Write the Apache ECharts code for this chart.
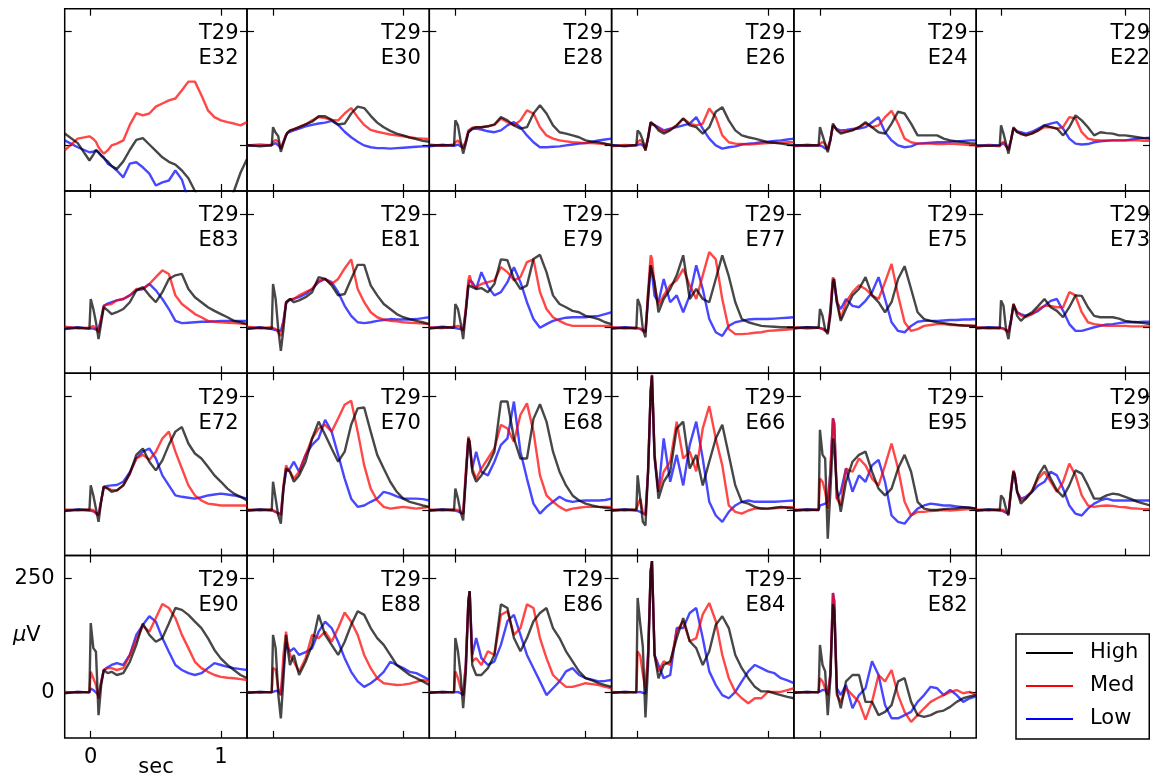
<!DOCTYPE html>
<html><head><meta charset="utf-8">
<script src="https://cdn.jsdelivr.net/npm/echarts@6/dist/echarts.min.js"></script>
<style>html,body{margin:0;padding:0;background:#fff}#c{width:1150px;height:778px}</style>
</head><body><div id="c"></div>
<script>
// ---- data ----
const times = [-0.2,-0.1,-0.01,0,0.02,0.04,0.06,0.08,0.1,0.11,0.13,0.16,0.2,0.25,0.3,0.35,0.4,0.45,0.5,0.55,0.6,0.65,0.7,0.75,0.8,0.85,0.9,0.95,1.0,1.05,1.1,1.15,1.2];
const xTickValues = [0, 1];
const yTickValues = [0, 250];
const trialLabel = 'T29';
const electrodes = ['E32','E30','E28','E26','E24','E22','E83','E81','E79','E77','E75','E73','E72','E70','E68','E66','E95','E93','E90','E88','E86','E84','E82'];
const conditions = ['High','Med','Low'];

const e32High = [26,5,-33,-30,-20,-10,-15,-22,-28,-30,-35,-45,-52,-35,-10,12,16,2,-12,-26,-36,-42,-55,-72,-100,-125,-145,-155,-150,-135,-100,-60,-30];
const e32Med  = [-11,15,20,18,14,8,-4,-12,-18,-16,-11,0,4,11,45,71,66,70,85,92,99,103,121,140,140,110,77,62,55,51,48,44,51];
const e32Low  = [11,-4,-15,-18,-14,-11,-16,-22,-26,-30,-40,-45,-55,-70,-40,-37,-48,-62,-88,-81,-77,-55,-75,-120,-150,-170,-180,-185,-185,-180,-175,-170,-165];

const e30High = [1,-2,0,40,28,20,-14,5,22,28,33,36,40,46,52,64,64,56,46,48,70,85,82,65,50,40,32,26,22,17,14,10,8];
const e30Med  = [0,2,0,8,12,8,-8,8,24,28,32,35,40,46,55,62,60,56,55,70,82,62,45,34,30,27,24,22,20,18,16,15,14];
const e30Low  = [-1,0,1,2,5,0,-6,8,22,27,30,33,37,42,45,48,50,54,45,30,18,8,0,-4,-6,-6,-7,-6,-5,-4,-3,-2,-2];

const e28High = [0,1,0,55,44,11,-18,4,29,33,37,40,40,42,46,62,55,44,37,40,70,88,70,44,29,26,22,18,11,8,7,4,0];
const e28Med  = [2,-1,2,7,11,4,-7,10,33,36,39,40,40,42,45,59,51,44,55,77,70,40,22,15,11,9,7,6,5,5,4,3,2];
const e28Low  = [-2,1,-1,0,2,-2,-4,8,29,33,36,37,35,31,29,33,44,51,40,22,7,-4,-4,-3,-2,0,2,4,5,8,11,13,15];

const e26High = [0,-1,1,33,26,11,-11,18,51,48,44,33,26,33,44,59,44,40,26,40,74,84,55,33,22,18,15,11,7,6,4,2,0];
const e26Med  = [-2,1,0,7,12,5,-11,18,51,48,45,37,30,35,44,59,48,44,48,81,62,22,7,4,3,2,3,4,5,6,6,7,7];
const e26Low  = [1,-2,0,0,3,0,-7,15,48,46,44,40,33,37,40,44,48,62,37,15,0,-7,-4,-2,2,4,5,7,8,10,11,13,15];

const e24High = [0,1,0,40,22,4,-15,11,48,44,33,26,29,33,40,51,40,29,26,48,74,70,48,22,22,22,22,15,11,9,7,5,4];
const e24Med  = [-2,1,0,4,8,2,-11,12,44,40,35,29,31,34,40,48,40,44,62,76,48,15,7,4,4,4,3,3,4,3,2,1,0];
const e24Low  = [1,-1,0,0,-2,-7,-5,12,44,40,36,33,34,36,37,40,51,62,29,11,0,-4,-2,4,5,6,7,7,8,9,10,11,11];

const e22High = [0,-1,0,44,26,4,-18,11,40,36,29,26,22,26,33,44,40,37,22,40,66,55,40,22,29,27,26,22,22,20,18,16,15];
const e22Med  = [-3,0,-2,4,8,0,-11,12,37,34,30,25,22,27,33,40,40,37,40,62,59,29,15,12,11,11,11,11,11,11,11,10,10];
const e22Low  = [-1,1,0,4,5,-2,-7,12,37,34,31,29,26,30,37,44,48,51,37,15,4,2,3,7,9,10,11,11,11,13,15,16,17];

const e83High = [-3,0,-2,63,41,12,-25,10,45,45,38,30,34,41,56,82,89,71,56,78,107,115,118,85,67,56,45,37,30,23,15,12,8];
const e83Med  = [2,-1,0,0,4,-3,-10,19,48,50,51,52,60,63,71,85,85,96,111,126,118,71,52,41,30,23,15,13,12,11,10,9,8];
const e83Low  = [-1,1,-2,-3,-2,-4,-3,20,48,50,53,56,60,63,71,82,85,96,82,63,41,15,10,11,12,13,13,14,15,15,15,15,15];

const e81High = [-3,0,-2,96,63,-3,-51,-3,56,60,63,56,60,67,78,111,107,93,71,74,107,138,138,93,71,52,41,30,23,19,15,12,8];
const e81Med  = [2,-1,1,1,-3,-10,-18,12,56,60,62,63,71,78,85,104,107,96,107,130,150,85,56,34,23,18,15,14,12,11,10,9,8];
const e81Low  = [-1,1,-3,-3,-5,-6,-7,15,52,57,62,64,67,74,85,100,107,100,78,48,26,12,10,12,15,17,19,18,18,18,19,21,23];

const e79High = [-2,1,0,52,41,12,-25,34,93,91,89,85,87,78,96,150,148,107,85,93,151,160,122,71,52,45,37,34,26,23,19,12,8];
const e79Med  = [1,-1,2,4,4,1,-7,42,104,115,93,89,96,100,104,133,122,104,111,144,150,78,41,23,15,8,4,4,4,4,4,4,4];
const e79Low  = [-1,2,0,0,-2,-3,-4,34,93,104,100,85,122,90,71,78,100,133,100,56,19,0,8,15,19,22,23,23,23,25,26,30,34];

const e77High = [-2,0,-1,63,48,-3,-21,71,137,133,100,34,63,85,115,159,63,85,63,56,107,159,113,56,19,12,8,4,3,2,1,1,1];
const e77Med  = [1,-1,0,1,-3,-7,-10,78,159,152,93,48,71,93,104,129,93,63,115,166,150,63,-3,-14,-14,-13,-11,-10,-7,-6,-5,-4,-3];
const e77Low  = [-1,1,-1,0,-2,-5,-7,60,137,120,70,56,107,56,71,34,71,137,85,19,-10,-18,4,12,15,18,19,19,19,20,21,22,23];

const e75High = [-1,1,0,41,26,-4,-14,26,100,107,55,15,41,71,85,111,71,56,34,56,107,135,85,34,19,15,12,10,8,6,5,4,4];
const e75Med  = [1,-2,0,0,-3,-7,-10,40,111,108,63,19,56,78,93,85,71,63,100,140,71,12,-7,-3,4,6,8,8,6,6,5,5,4];
const e75Low  = [-1,1,0,0,-2,-5,-7,35,107,100,56,41,63,48,45,59,78,111,63,12,-7,-10,4,13,15,15,15,16,17,17,18,18,19];

const e73High = [-1,0,-1,60,48,-3,-25,15,52,45,26,15,26,34,48,63,45,37,23,45,71,70,45,26,23,23,23,20,15,13,12,10,8];
const e73Med  = [1,-1,0,1,-2,-6,-10,15,52,48,34,27,23,30,41,48,48,45,45,78,71,34,12,8,6,4,4,4,4,3,3,3,3];
const e73Low  = [-1,1,0,0,-2,-5,-7,15,48,44,34,30,26,30,37,48,59,63,37,8,-7,-7,-3,1,4,7,8,10,12,12,12,13,13];

const e72High = [-2,1,0,54,32,3,-26,19,51,49,47,40,43,54,80,121,135,106,87,109,143,172,182,146,124,113,95,76,62,47,36,29,21];
const e72Med  = [1,-1,1,3,0,-8,-12,20,51,50,48,44,43,54,80,113,121,110,128,157,172,128,91,54,32,21,14,12,10,10,10,10,10];
const e72Low  = [-1,1,-1,-1,-3,-6,-8,20,51,52,53,54,55,62,83,113,128,135,113,76,54,32,29,27,25,28,32,34,36,34,32,29,25];

const e70High = [-1,1,0,62,25,-12,-30,47,91,88,84,62,76,106,157,194,165,135,106,128,187,223,225,172,121,91,62,40,25,18,14,10,7];
const e70Med  = [1,-1,1,3,-4,-8,-12,54,98,92,84,69,84,121,157,179,187,172,201,231,240,172,98,47,21,7,3,5,7,5,3,5,7];
const e70Low  = [-1,1,-1,-1,-4,-7,-8,47,84,88,91,106,84,121,143,157,198,172,121,69,25,7,10,18,25,40,36,30,25,25,25,24,21];

const e68High = [-1,1,0,47,25,-4,-23,69,157,150,84,62,76,98,128,238,238,157,113,113,200,232,194,128,84,54,32,21,14,10,7,5,3];
const e68Med  = [1,-1,1,3,0,-4,-8,84,161,150,91,69,91,113,135,187,179,150,209,234,172,76,32,18,7,-1,3,5,7,7,7,7,7];
const e68Low  = [-1,1,-1,-1,-3,-6,-8,70,157,140,91,128,84,76,106,143,157,238,128,69,14,-8,7,18,29,21,18,20,21,21,21,22,25];

const e66High = [-1,1,0,76,25,-26,-34,84,260,295,121,25,62,84,179,194,91,121,54,106,157,187,121,54,18,14,7,3,3,5,7,5,3];
const e66Med  = [1,-1,1,10,25,-5,-12,84,260,297,121,40,84,106,194,113,128,85,179,228,157,98,10,-4,-8,-1,3,4,3,4,5,6,7];
const e66Low  = [-1,1,-1,-1,-4,-7,-9,84,260,295,113,40,157,62,121,54,143,194,113,18,-12,-26,-4,10,18,21,18,18,18,18,19,20,21];

const e95High = [-1,1,0,176,121,113,-63,40,157,140,47,-4,62,106,121,128,84,47,32,47,91,121,84,18,3,0,0,2,3,4,6,5,3];
const e95Med  = [1,-1,1,69,62,40,3,84,201,190,25,10,91,84,113,98,69,54,98,146,91,18,-12,-4,-4,-2,-1,0,-1,0,1,2,3];
const e95Low  = [-1,1,0,10,12,14,18,84,201,190,25,40,91,40,76,62,98,110,62,-12,-26,-30,-12,3,10,14,12,10,10,8,6,5,3];

const e93High = [-1,1,0,32,25,3,-12,40,84,77,40,14,25,40,76,98,69,43,29,54,87,80,54,25,25,32,36,34,29,24,18,14,10];
const e93Med  = [1,-1,1,3,0,-5,-8,47,87,80,40,21,25,43,69,84,62,40,62,102,76,32,10,7,9,10,9,7,6,4,3,2,2];
const e93Low  = [-1,1,-1,-1,-3,-6,-8,40,84,77,40,25,29,40,54,62,84,76,47,10,-8,-12,3,14,21,25,21,21,21,21,21,21,21];

const e90High = [-2,1,0,152,97,89,-50,16,49,47,42,45,38,42,67,104,151,126,111,119,151,185,181,170,155,141,119,93,74,60,49,38,31];
const e90Med  = [1,-1,1,45,31,16,-14,22,49,51,53,53,49,53,82,115,146,133,163,194,185,163,126,97,67,53,45,38,34,32,31,29,27];
const e90Low  = [-1,1,0,8,5,0,-6,22,49,52,55,60,64,60,82,126,148,167,155,119,89,60,49,42,38,42,53,64,60,56,53,51,49];

const e88High = [-1,1,0,126,97,-4,-57,30,126,100,60,82,38,67,104,170,126,104,82,111,148,178,170,141,119,104,82,60,49,38,31,24,16];
const e88Med  = [1,-1,1,53,50,9,-6,82,133,110,82,67,45,75,126,119,133,111,141,175,155,126,82,53,31,20,18,16,17,19,23,27,24];
const e88Low  = [-1,1,0,1,3,3,-6,53,111,100,90,97,82,88,97,133,155,141,111,75,45,24,12,20,31,45,67,60,53,45,42,35,27];

const e86High = [-1,1,0,119,90,40,-35,40,200,222,60,38,38,53,82,193,185,119,90,119,156,174,185,141,119,90,68,46,31,26,20,16,12];
const e86Med  = [1,-1,1,46,31,9,-6,60,200,222,68,75,60,90,82,170,178,126,141,193,185,119,75,38,24,12,12,16,20,18,16,12,9];
const e86Low  = [-1,1,0,1,1,-2,-6,60,200,222,82,119,75,60,68,104,156,170,126,82,53,24,-6,9,24,46,53,38,31,28,24,25,27];

const e84High = [-1,1,0,207,150,100,-55,60,266,288,82,31,60,68,119,163,112,97,60,90,148,167,141,82,53,31,12,2,2,-2,-6,-10,-13];
const e84Med  = [1,-1,1,90,80,40,9,82,266,288,82,46,68,60,134,156,112,119,171,196,156,82,31,1,-13,-24,-13,-13,1,1,1,5,9];
const e84Low  = [-1,1,0,1,1,-1,-3,82,266,288,82,60,31,38,141,141,174,185,119,46,16,-6,-13,1,24,46,60,53,46,42,31,26,20];

const e82High = [-1,1,0,104,60,46,-50,30,193,180,0,-35,24,38,38,-21,-21,-50,-43,-28,24,31,-21,-50,-54,-50,-43,-40,-32,-21,-13,-9,-6];
const e82Med  = [1,-1,1,31,24,9,-6,40,218,200,-6,-21,9,-6,-21,-60,-21,38,24,49,-6,-43,-65,-50,-35,-21,-13,-6,1,5,-2,1,-6];
const e82Low  = [-1,1,0,1,5,5,-6,40,218,200,9,-6,16,-35,-6,9,68,38,-28,-57,-57,-50,-43,-21,-6,12,9,-6,5,-6,-21,-13,-9];

const panelSeries = [
  [e32High,e32Med,e32Low],[e30High,e30Med,e30Low],[e28High,e28Med,e28Low],[e26High,e26Med,e26Low],[e24High,e24Med,e24Low],[e22High,e22Med,e22Low],
  [e83High,e83Med,e83Low],[e81High,e81Med,e81Low],[e79High,e79Med,e79Low],[e77High,e77Med,e77Low],[e75High,e75Med,e75Low],[e73High,e73Med,e73Low],
  [e72High,e72Med,e72Low],[e70High,e70Med,e70Low],[e68High,e68Med,e68Low],[e66High,e66Med,e66Low],[e95High,e95Med,e95Low],[e93High,e93Med,e93Low],
  [e90High,e90Med,e90Low],[e88High,e88Med,e88Low],[e86High,e86Med,e86Low],[e84High,e84Med,e84Low],[e82High,e82Med,e82Low]
];

// ---- layout / style ----
const FONT = 'DejaVu Sans';
const GL = 64.7, GT = 8.7, CELL = 182.3;
const condColor = {High:'#000000', Med:'#ff0000', Low:'#0000ff'};
const drawOrder = [2, 1, 0]; // Low, Med, High (High on top)

const grids = [], xAxes = [], yAxes = [], series = [], graphics = [];
const tickStyle = {color:'#000', width:1.2};
const noLine = {show: false, onZero: false};

electrodes.forEach((name, i) => {
  const r = Math.floor(i / 6), c = i % 6;
  const left = GL + c * CELL, top = GT + r * CELL;
  const labelled = (i === 18);
  grids.push({left, top, width: CELL, height: CELL, show: true, borderColor: '#000', borderWidth: 1.5, backgroundColor: 'transparent'});
  const xb = xAxes.length;
  xAxes.push({gridIndex: i, type: 'value', min: -0.2, max: 1.2, position: 'bottom',
    axisLine: noLine, splitLine: {show: false},
    axisTick: {show: true, inside: true, length: 7, customValues: xTickValues, lineStyle: tickStyle},
    axisLabel: {show: labelled, customValues: xTickValues, margin: 9, color: '#000', fontSize: 21, fontFamily: FONT}});
  xAxes.push({gridIndex: i, type: 'value', min: -0.2, max: 1.2, position: 'top',
    axisLine: noLine, splitLine: {show: false},
    axisTick: {show: true, inside: true, length: 7, customValues: xTickValues, lineStyle: tickStyle},
    axisLabel: {show: false}});
  const yb = yAxes.length;
  yAxes.push({gridIndex: i, type: 'value', min: -100, max: 300, position: 'left',
    axisLine: noLine, splitLine: {show: false},
    axisTick: {show: true, inside: true, length: 7, customValues: yTickValues, lineStyle: tickStyle},
    axisLabel: {show: labelled, customValues: yTickValues, margin: 10, color: '#000', fontSize: 21, fontFamily: FONT}});
  yAxes.push({gridIndex: i, type: 'value', min: -100, max: 300, position: 'right',
    axisLine: noLine, splitLine: {show: false},
    axisTick: {show: true, inside: true, length: 7, customValues: yTickValues, lineStyle: tickStyle},
    axisLabel: {show: false}});
  drawOrder.forEach(k => {
    const cond = conditions[k];
    const vals = panelSeries[i][k];
    series.push({
      type: 'line', name: cond, xAxisIndex: xb, yAxisIndex: yb,
      data: times.map((t, j) => [t, vals[j]]),
      showSymbol: false, symbol: 'none', clip: true, silent: true,
      color: condColor[cond],
      lineStyle: {color: condColor[cond], width: 2.4, opacity: 0.72},
      z: 2
    });
  });
  graphics.push({type: 'text', x: left + CELL - 8.5, y: top + 12.5, z: 10,
    style: {text: trialLabel + '\n' + name, fill: '#000', fontSize: 21, fontFamily: FONT,
      lineHeight: 25, align: 'right', verticalAlign: 'top'}});
});

graphics.push({type: 'text', x: 156, y: 768, style: {text: 'sec', fill: '#000', fontSize: 21, fontFamily: FONT, align: 'center', verticalAlign: 'middle'}});
graphics.push({type: 'text', x: 13, y: 636, style: {text: '{i|\u03bc}V', fill: '#000', fontSize: 21, fontFamily: FONT, align: 'left', verticalAlign: 'middle',
  rich: {i: {fontStyle: 'italic', fontSize: 21, fontFamily: FONT, fill: '#000'}}}});

const chart = echarts.init(document.getElementById('c'), null, {renderer: 'canvas'});
chart.setOption({
  animation: false,
  backgroundColor: '#fff',
  grid: grids, xAxis: xAxes, yAxis: yAxes, series,
  graphic: graphics,
  legend: {
    data: conditions, orient: 'vertical', left: 1016, top: 634,
    icon: 'rect', itemWidth: 47, itemHeight: 2, itemGap: 12,
    padding: [8.5, 11, 9.5, 10], borderColor: '#000', borderWidth: 1.5, borderRadius: 0,
    backgroundColor: '#fff', selectedMode: false,
    itemStyle: {opacity: 1},
    textStyle: {fontSize: 21, fontFamily: FONT, color: '#000', lineHeight: 21, padding: [0, 0, 0, 12]}
  }
});
</script></body></html>
